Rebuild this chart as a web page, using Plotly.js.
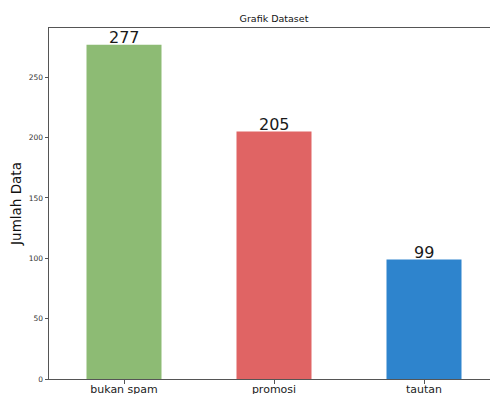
<!DOCTYPE html>
<html>
<head>
<meta charset="utf-8">
<script src="https://cdn.plot.ly/plotly-3.0.1.min.js"></script>
<style>
  html, body { margin: 0; padding: 0; background: #fff; overflow: hidden; }
  #chart { width: 490px; height: 394px; }
</style>
</head>
<body>
<div id="chart"></div>
<script>
// Jumlah data per kategori
const categories = ['bukan spam', 'promosi', 'tautan'];
const counts = [277, 205, 99];
const barColors = ['#8DBB74', '#E06464', '#2E84CD'];
const yTicks = [0, 50, 100, 150, 200, 250];

const FONT = 'DejaVu Sans, sans-serif';
const yMax = Math.max(...counts) * 1.05;

const trace = {
  type: 'bar',
  x: categories,
  y: counts,
  width: 0.5,
  marker: { color: barColors, line: { width: 0 } },
  hoverinfo: 'x+y'
};

// angka di atas setiap batang
const valueLabels = categories.map((c, i) => ({
  x: c,
  y: counts[i],
  xref: 'x',
  yref: 'y',
  text: String(counts[i]),
  showarrow: false,
  yanchor: 'bottom',
  yshift: -3,
  borderpad: 0,
  font: { family: FONT, size: 16, color: '#1a1a1a' }
}));

const layout = {
  width: 490,
  height: 394,
  margin: { l: 49, r: 0, t: 28, b: 15, pad: 0 },
  paper_bgcolor: '#fff',
  plot_bgcolor: '#fff',
  showlegend: false,
  title: {
    text: 'Grafik Dataset',
    font: { family: FONT, size: 9.5, color: '#111' },
    x: 274 / 490,
    xanchor: 'center',
    y: 1 - 19 / 394,
    yanchor: 'middle'
  },
  xaxis: {
    type: 'category',
    range: [-0.5, 2.44],
    showgrid: false,
    zeroline: false,
    showline: true,
    mirror: true,
    linecolor: '#555',
    linewidth: 1,
    ticks: 'outside',
    ticklen: 3.5,
    tickwidth: 1,
    tickcolor: '#555',
    ticklabelstandoff: -4,
    tickfont: { family: FONT, size: 11, color: '#222' },
    fixedrange: true
  },
  yaxis: {
    range: [0, yMax],
    tickvals: yTicks,
    ticktext: yTicks.map(String),
    showgrid: false,
    zeroline: false,
    showline: true,
    linecolor: '#555',
    linewidth: 1,
    ticks: 'outside',
    ticklen: 3.5,
    tickwidth: 1,
    tickcolor: '#555',
    tickfont: { family: FONT, size: 7.5, color: '#333' },
    title: {
      text: 'Jumlah Data',
      font: { family: FONT, size: 13.5, color: '#111' },
      standoff: 3
    },
    fixedrange: true
  },
  annotations: valueLabels
};

Plotly.newPlot('chart', [trace], layout, { displayModeBar: false, staticPlot: true });
</script>
</body>
</html>
